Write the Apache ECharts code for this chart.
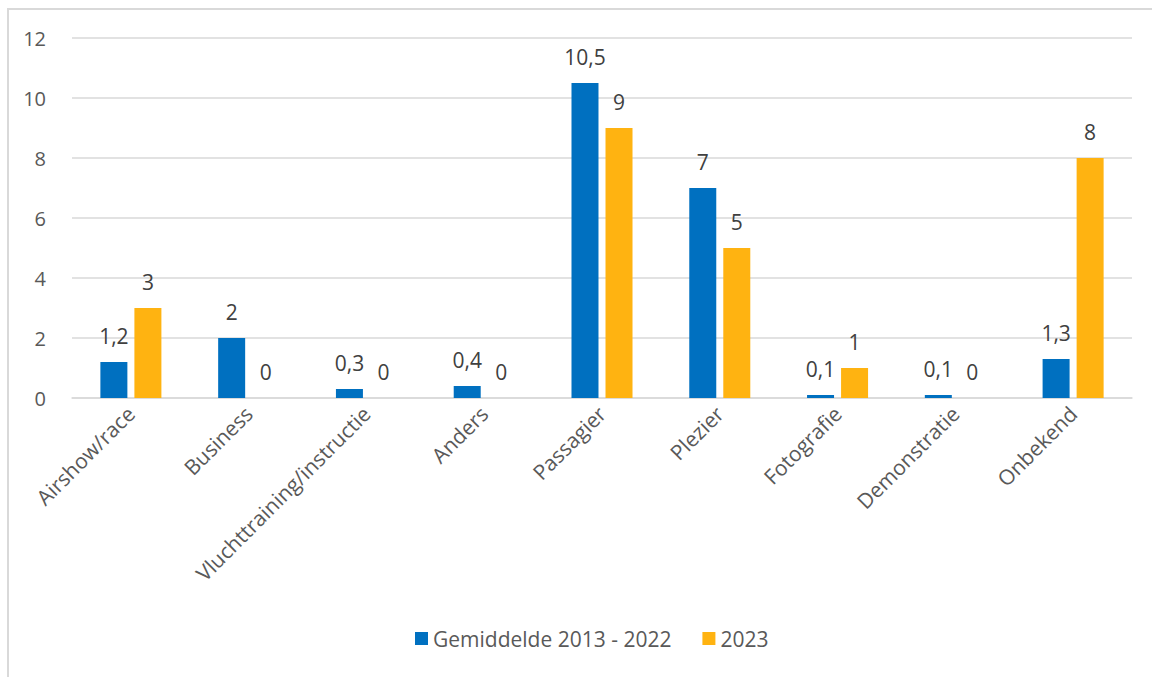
<!DOCTYPE html>
<html>
<head>
<meta charset="utf-8">
<style>
  html, body { margin: 0; padding: 0; background: #fff; }
  #frame { position: absolute; left: 7px; top: 8px; width: 1160px; height: 680px;
           border-left: 2px solid #d9d9d9; border-top: 2px solid #d9d9d9; box-sizing: border-box; }
  #chart { position: absolute; left: 0; top: 0; width: 1152px; height: 677px; }
</style>
<script src="https://cdn.jsdelivr.net/npm/echarts@6/dist/echarts.min.js"></script>
</head>
<body>
<div id="frame"></div>
<div id="chart"></div>
<script>
var categories = ['Airshow/race', 'Business', 'Vluchttraining/instructie', 'Anders', 'Passagier', 'Plezier', 'Fotografie', 'Demonstratie', 'Onbekend'];
var seriesNames = ['Gemiddelde 2013 - 2022', '2023'];
var average = [1.2, 2, 0.3, 0.4, 10.5, 7, 0.1, 0.1, 1.3];
var year2023 = [3, 0, 0, 0, 9, 5, 1, 0, 8];
var colors = ['#0070c0', '#ffb311'];

var fontFamily = '"Open Sans", "Liberation Sans", sans-serif';
function fmt(p) { return String(p.value).replace('.', ','); }

var chart = echarts.init(document.getElementById('chart'), null, { renderer: 'svg' });
chart.setOption({
  animation: false,
  textStyle: { fontFamily: fontFamily },
  legend: {
    data: seriesNames,
    bottom: 23,
    left: 410,
    itemWidth: 13, itemHeight: 13, itemGap: 31,
    icon: 'rect',
    textStyle: { color: '#595959', fontSize: 21, fontFamily: fontFamily }
  },
  grid: { left: 72, right: 20, top: 38, bottom: 279 },
  xAxis: {
    type: 'category',
    data: categories,
    axisLine: { lineStyle: { color: '#d9d9d9', width: 1.5 } },
    axisTick: { show: false },
    axisLabel: { color: '#595959', fontSize: 21, rotate: 45, interval: 0, margin: 12, fontFamily: fontFamily }
  },
  yAxis: {
    type: 'value',
    min: 0, max: 12, interval: 2,
    axisLine: { show: false },
    axisTick: { show: false },
    axisLabel: { color: '#595959', fontSize: 20, margin: 26, fontFamily: fontFamily },
    splitLine: { lineStyle: { color: '#d9d9d9', width: 1.5 } }
  },
  series: [
    {
      name: seriesNames[0], type: 'bar', data: average,
      barWidth: 27, barGap: '26%',
      itemStyle: { color: colors[0] },
      label: { show: true, position: 'top', distance: 16, color: '#404040', fontSize: 21, formatter: fmt }
    },
    {
      name: seriesNames[1], type: 'bar', data: year2023,
      barWidth: 27,
      itemStyle: { color: colors[1] },
      label: { show: true, position: 'top', distance: 16, color: '#404040', fontSize: 21, formatter: fmt }
    }
  ]
});
</script>
</body>
</html>
